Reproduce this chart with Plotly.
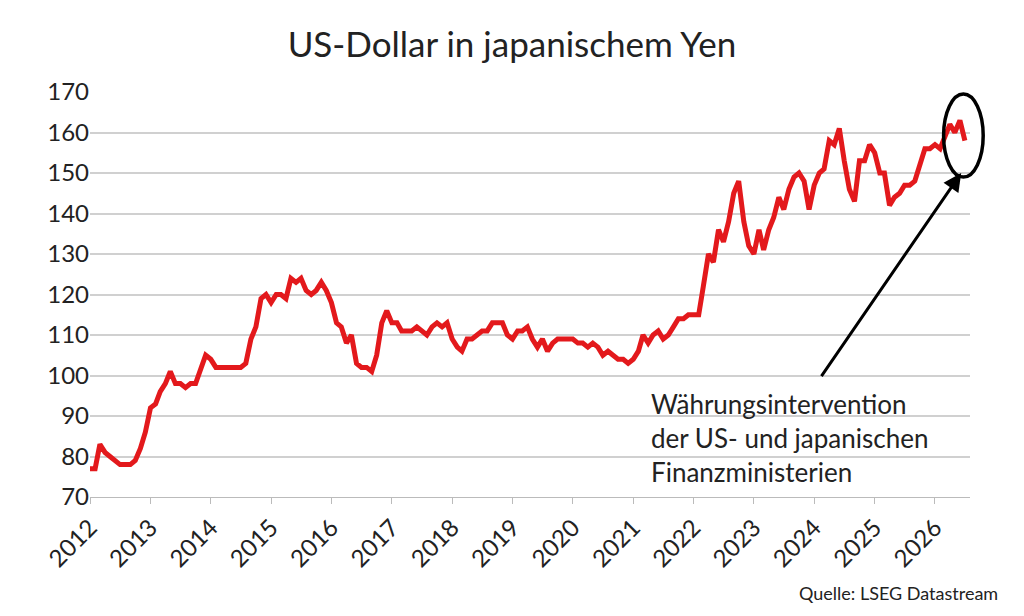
import pandas as pd
import plotly.graph_objects as go

# Monthly USD/JPY values (Jan 2012 .. Jul 2026)
usdjpy_2012 = [77, 77, 83, 81, 80, 79, 78, 78, 78, 79, 82, 86]
usdjpy_2013 = [92, 93, 96, 98, 101, 98, 98, 97, 98, 98, 102, 105]
usdjpy_2014 = [104, 102, 102, 102, 102, 102, 102, 103, 109, 112, 119, 120]
usdjpy_2015 = [118, 120, 120, 119, 124, 123, 124, 121, 120, 121, 123, 121]
usdjpy_2016 = [118, 113, 112, 108, 110, 103, 102, 102, 101, 105, 113, 116]
usdjpy_2017 = [113, 113, 111, 111, 111, 112, 111, 110, 112, 113, 112, 113]
usdjpy_2018 = [109, 107, 106, 109, 109, 110, 111, 111, 113, 113, 113, 110]
usdjpy_2019 = [109, 111, 111, 112, 109, 107, 109, 106, 108, 109, 109, 109]
usdjpy_2020 = [109, 108, 108, 107, 108, 107, 105, 106, 105, 104, 104, 103]
usdjpy_2021 = [104, 106, 110, 108, 110, 111, 109, 110, 112, 114, 114, 115]
usdjpy_2022 = [115, 115, 122, 130, 128, 136, 133, 138, 145, 148, 138, 132]
usdjpy_2023 = [130, 136, 131, 136, 139, 144, 141, 146, 149, 150, 148, 141]
usdjpy_2024 = [147, 150, 151, 158, 157, 161, 153, 146, 143, 153, 153, 157]
usdjpy_2025 = [155, 150, 150, 142, 144, 145, 147, 147, 148, 152, 156, 156]
usdjpy_2026 = [157, 156, 159, 162, 160, 163, 158]

values = (usdjpy_2012 + usdjpy_2013 + usdjpy_2014 + usdjpy_2015 + usdjpy_2016
          + usdjpy_2017 + usdjpy_2018 + usdjpy_2019 + usdjpy_2020 + usdjpy_2021
          + usdjpy_2022 + usdjpy_2023 + usdjpy_2024 + usdjpy_2025 + usdjpy_2026)
dates = pd.date_range("2012-01-01", periods=len(values), freq="MS")
year_ticks = [str(y) for y in range(2012, 2027)]

font = "Lato, Open Sans, sans-serif"

fig = go.Figure()
fig.add_trace(go.Scatter(x=dates, y=values, mode="lines",
                         line=dict(color="#e3191c", width=5), showlegend=False))

# page has an 8px body margin, so the figure is a little smaller
fig.update_layout(
    width=1008, height=600,
    title=dict(text="US-Dollar in japanischem Yen", x=0.5, y=0.938, yanchor="middle",
               font=dict(family=font, size=35, color="#222")),
    plot_bgcolor="white", paper_bgcolor="white",
    margin=dict(l=82, r=46, t=84, b=111, autoexpand=False),
    font=dict(family=font, color="#222"),
)
fig.update_xaxes(range=["2012-01-01", "2026-08-01"],
                 tickvals=[f"{y}-01-01" for y in year_ticks], ticktext=year_ticks,
                 tickangle=-45, tickfont=dict(size=24), showgrid=False,
                 ticks="outside", ticklen=6, tickcolor="#bbb",
                 showline=True, linecolor="#bbb", automargin=False)
fig.update_yaxes(range=[70, 170], dtick=10, tickfont=dict(size=24),
                 gridcolor="#d0d0d0", gridwidth=1.5, zeroline=False, automargin=False)

fig.add_shape(type="circle", xref="paper", yref="paper",
              x0=0.97, x1=1.015, y0=0.79, y1=0.995,
              line=dict(color="black", width=3.5))
fig.add_annotation(xref="x domain", yref="y domain", x=0.99, y=0.80,
                   ax=0.83, ay=0.295, axref="x domain", ayref="y domain",
                   showarrow=True, arrowhead=2, arrowsize=1.2, arrowwidth=3,
                   arrowcolor="black", text="")
fig.add_annotation(xref="paper", yref="paper", x=0.635, y=0.275,
                   xanchor="left", yanchor="top", align="left", showarrow=False,
                   text="Währungsintervention<br>der US- und japanischen<br>Finanzministerien",
                   font=dict(size=26, color="#222"))
fig.add_annotation(xref="paper", yref="paper", x=1.034, y=-0.205,
                   xanchor="right", yanchor="top", showarrow=False,
                   text="Quelle: LSEG Datastream", font=dict(size=18, color="#222"))

fig.write_html("out.html")
